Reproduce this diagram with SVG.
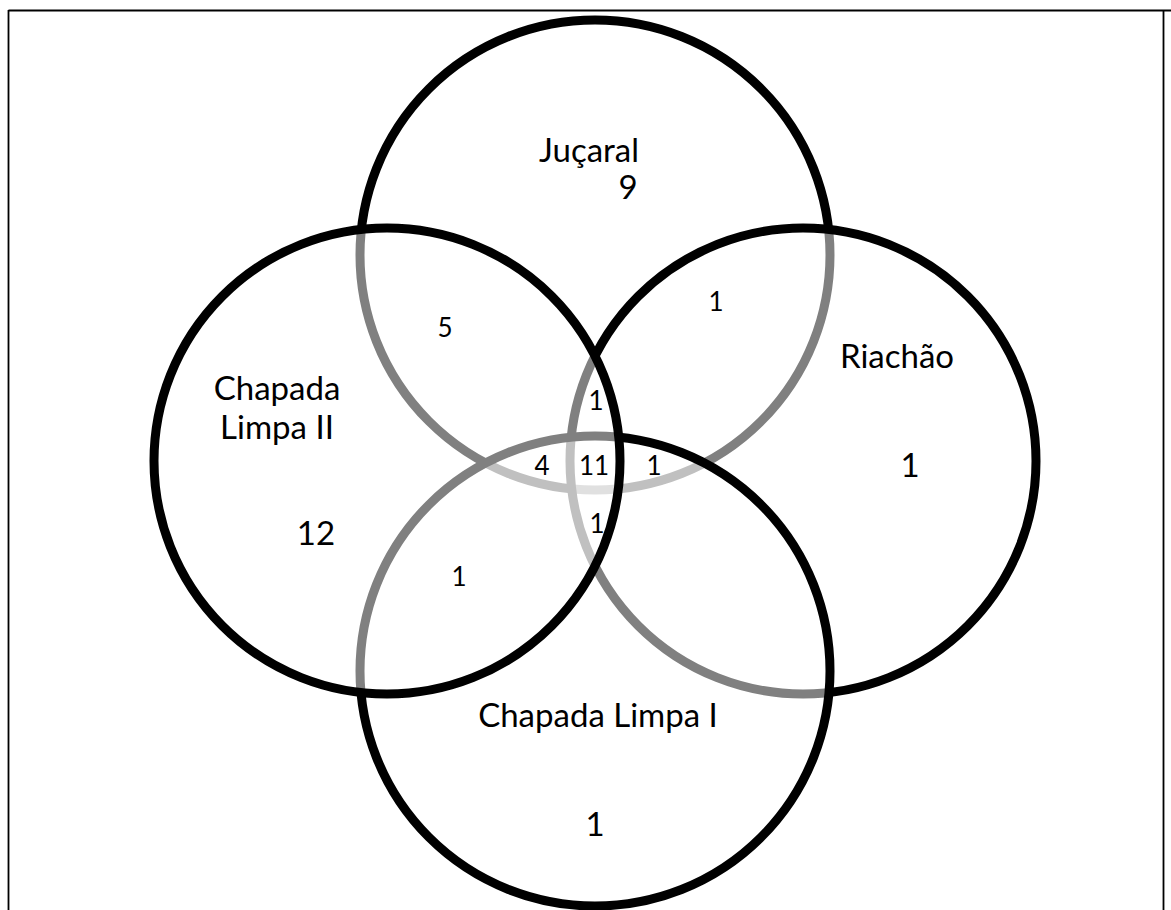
<svg xmlns="http://www.w3.org/2000/svg" width="1171" height="910" viewBox="0 0 1171 910">
<style>
.ring{fill:#ffffff;fill-opacity:0.5;stroke:#000;stroke-width:9}
.lbl{font-family:Lato,"Open Sans","Liberation Sans",sans-serif;font-size:33px;fill:#000;text-anchor:middle}
.big{font-family:Lato,"Open Sans","Liberation Sans",sans-serif;font-size:33px;fill:#000;text-anchor:middle}
.sm{font-family:Lato,"Open Sans","Liberation Sans",sans-serif;font-size:26px;fill:#000;text-anchor:middle}
.frame{stroke:#000;stroke-width:1.8;fill:none}
</style>
<rect width="1171" height="910" fill="#fff"/>
<g id="frame">
<line class="frame" x1="8.5" y1="10.5" x2="1171" y2="10.5"/>
<line class="frame" x1="8.5" y1="10" x2="8.5" y2="910"/>
<line class="frame" x1="1163.5" y1="10" x2="1163.5" y2="910"/>
</g>
<g id="circles">
<g id="jucaral"><circle class="ring" cx="595" cy="255" r="235"/></g>
<g id="riachao"><circle class="ring" cx="803" cy="461" r="233"/></g>
<g id="chapada-limpa-i"><circle class="ring" cx="595" cy="671" r="235"/></g>
<g id="chapada-limpa-ii"><circle class="ring" cx="387" cy="461" r="233"/></g>
</g>
<g id="labels">
<text class="lbl" x="589" y="162">Juçaral</text>
<text class="big" x="628" y="199">9</text>
<text class="lbl" x="277" y="400">Chapada</text>
<text class="lbl" x="277" y="439">Limpa II</text>
<text class="big" x="316" y="545">12</text>
<text class="lbl" x="897" y="368">Riachão</text>
<text class="big" x="910" y="477">1</text>
<text class="lbl" x="598" y="727">Chapada Limpa I</text>
<text class="big" x="595" y="836">1</text>
<text class="sm" x="445" y="337">5</text>
<text class="sm" x="716" y="311">1</text>
<text class="sm" x="596" y="410">1</text>
<text class="sm" x="542" y="475">4</text>
<text class="sm" x="594" y="475">11</text>
<text class="sm" x="654" y="475">1</text>
<text class="sm" x="597" y="533">1</text>
<text class="sm" x="459" y="586">1</text>
</g>
</svg>
